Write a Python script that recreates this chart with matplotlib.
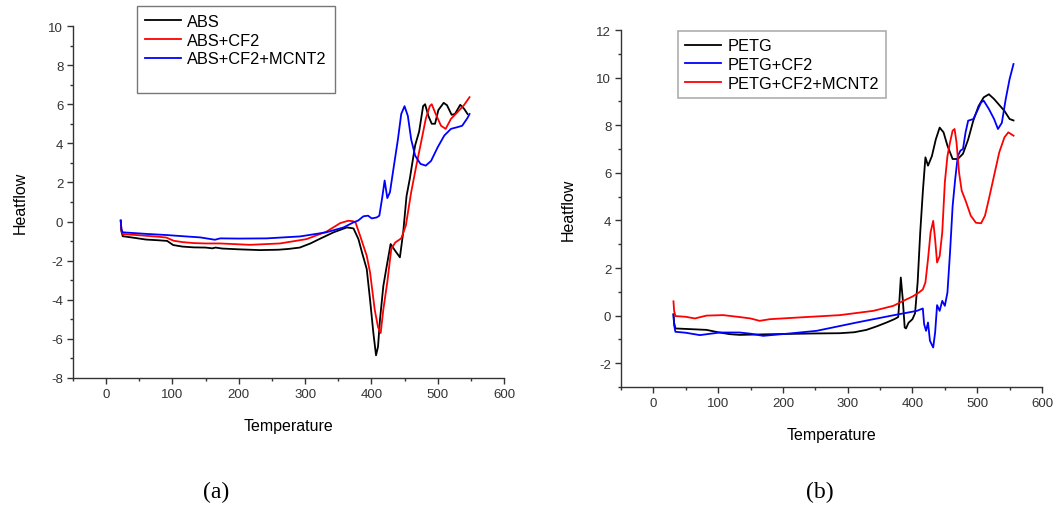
import matplotlib
matplotlib.use("Agg")
import matplotlib.pyplot as plt
from matplotlib.lines import Line2D

plt.rcParams['font.family'] = ['Liberation Sans', 'DejaVu Sans']
plt.rcParams['axes.unicode_minus'] = False

# ---- panel (a): ABS samples ----
abs_x = [22, 23, 25, 40, 60, 80, 92, 101, 115, 132, 150, 160, 165, 175, 200, 232, 260, 275, 292, 308, 320,
         343, 355, 363, 373, 380.5, 386, 393, 398, 403, 407, 410, 413, 418, 423, 429, 436, 443, 448, 453, 458,
         466, 472, 478, 481, 486, 491, 496, 501, 509, 514, 521, 526, 534, 540, 545]
abs_y = [0.05, -0.5, -0.75, -0.82, -0.92, -0.96, -0.99, -1.2, -1.28, -1.32, -1.33, -1.37, -1.33, -1.38, -1.42,
         -1.46, -1.44, -1.4, -1.33, -1.12, -0.92, -0.55, -0.4, -0.3, -0.35, -0.9, -1.6, -2.43, -4.0, -5.7, -6.84,
         -6.4, -5.0, -3.3, -2.3, -1.15, -1.5, -1.83, -0.55, 1.3, 2.2, 3.9, 4.6, 5.9, 6.0, 5.4, 5.0, 5.0, 5.7,
         6.07, 5.95, 5.46, 5.5, 5.97, 5.76, 5.5]

abs_cf_x = [22, 23, 25, 50, 80, 91, 101.6, 115, 131.7, 150, 172, 217, 262, 302, 332, 353, 365, 372, 376, 383,
            393, 398, 405, 410, 414, 418, 424, 430, 436, 445, 452, 460, 468, 475, 482, 488, 491, 497, 505,
            512, 520, 530, 540, 548]
abs_cf_y = [0.05, -0.45, -0.64, -0.7, -0.78, -0.82, -0.98, -1.05, -1.1, -1.12, -1.12, -1.19, -1.12, -0.9,
            -0.52, -0.08, 0.04, 0.02, -0.04, -0.73, -1.75, -2.6, -4.5, -5.4, -5.7, -4.5, -3.1, -1.4, -1.07,
            -0.86, -0.2, 1.5, 2.9, 4.06, 5.25, 5.9, 6.0, 5.5, 4.9, 4.74, 5.25, 5.6, 5.97, 6.36]

abs_cf_mcnt_x = [22, 23, 25, 60, 91.5, 120, 141.8, 164, 172, 200, 242, 292.6, 332, 358, 373, 380, 388, 395,
                 400.5, 408, 412, 416, 420, 424, 428, 434, 440, 445, 450, 455, 460, 466, 474, 482, 490, 500,
                 510, 520, 530, 537, 545, 548]
abs_cf_mcnt_y = [0.05, -0.4, -0.55, -0.63, -0.69, -0.76, -0.81, -0.93, -0.86, -0.87, -0.86, -0.76, -0.55,
                 -0.3, -0.04, 0.05, 0.27, 0.3, 0.16, 0.21, 0.3, 1.15, 2.1, 1.2, 1.5, 2.86, 4.2, 5.5, 5.9, 5.4,
                 4.2, 3.37, 2.95, 2.86, 3.1, 3.8, 4.4, 4.74, 4.83, 4.9, 5.3, 5.5]

# ---- panel (b): PETG samples ----
petg_x = [31, 32, 34, 50, 82, 100, 118, 133, 185, 250, 288, 310, 329, 345, 360, 372, 378, 380, 382, 385, 388,
          390, 394, 400, 404, 408, 412, 416, 420, 424, 430, 436, 442, 448, 454, 462, 470, 478, 486, 494, 502,
          510, 518, 526, 534, 542, 550, 556]
petg_y = [0.05, -0.3, -0.54, -0.56, -0.6, -0.7, -0.78, -0.81, -0.78, -0.75, -0.74, -0.7, -0.6, -0.45, -0.29,
          -0.15, -0.06, 0.7, 1.6, 0.7, -0.5, -0.54, -0.3, -0.15, 0.1, 1.4, 3.5, 5.2, 6.65, 6.3, 6.7, 7.4, 7.9,
          7.7, 7.14, 6.58, 6.58, 6.8, 7.4, 8.2, 8.8, 9.17, 9.3, 9.1, 8.85, 8.6, 8.26, 8.2]

petg_cf_x = [31, 32, 34, 50, 71.8, 102.7, 133, 150, 169.5, 211, 252, 314, 366, 407, 416, 418, 421, 424, 427,
             432, 435, 438, 442, 446, 450, 454, 458, 462, 466, 470, 474, 478, 482, 486, 494, 500, 506, 510,
             518, 526, 532, 538, 544, 550, 556]
petg_cf_y = [0.05, -0.4, -0.68, -0.72, -0.82, -0.71, -0.71, -0.76, -0.85, -0.75, -0.64, -0.29, -0.01, 0.2,
             0.3, -0.36, -0.64, -0.29, -1.06, -1.34, -0.71, 0.44, 0.2, 0.62, 0.41, 0.97, 2.65, 4.6, 5.74,
             6.7, 6.93, 7.0, 7.7, 8.19, 8.26, 8.6, 8.96, 9.03, 8.68, 8.26, 7.84, 8.1, 9.1, 9.94, 10.57]

petg_cf_mcnt_x = [31, 32, 34, 50, 64, 82, 107.7, 133, 150, 164, 180, 236.5, 288, 339.6, 370.5, 386, 400, 410,
                  416, 420, 424, 428, 432, 435, 438, 442, 446, 450, 454, 458, 462, 465, 468, 472, 476, 482,
                  490, 498, 506, 512, 518, 526, 534, 542, 548, 552, 556]
petg_cf_mcnt_y = [0.6, 0.2, -0.02, -0.05, -0.12, 0.0, 0.02, -0.06, -0.12, -0.22, -0.15, -0.06, 0.02, 0.2,
                  0.41, 0.62, 0.8, 0.97, 1.1, 1.39, 2.37, 3.5, 3.98, 3.2, 2.23, 2.5, 3.5, 5.6, 6.7, 7.28, 7.77,
                  7.84, 7.28, 6.0, 5.25, 4.83, 4.2, 3.9, 3.88, 4.2, 4.9, 5.88, 6.86, 7.49, 7.7, 7.63, 7.56]

W, H = 1057, 506
fig = plt.figure(figsize=(W / 100, H / 100), dpi=100)

def px_axes(l, t, r, b):
    return fig.add_axes([l / W, 1 - b / H, (r - l) / W, (b - t) / H])

def style(ax, ylim, yticks):
    for s in ['top', 'right']:
        ax.spines[s].set_visible(False)
    for s in ['left', 'bottom']:
        ax.spines[s].set_color('#333333')
        ax.spines[s].set_linewidth(1.0)
    ax.set_xlim(-50, 600)
    ax.set_ylim(*ylim)
    ax.set_xticks(range(0, 601, 100))
    ax.set_xticks(range(-50, 601, 50), minor=True)
    ax.set_yticks(yticks)
    ax.set_yticks(range(ylim[0], ylim[1] + 1, 1), minor=True)
    ax.tick_params(which='major', length=4, width=1, color='#333333', labelsize=9.5, labelcolor='#333333', pad=3)
    ax.tick_params(which='minor', length=2.5, width=1, color='#333333')
    ax.set_xlabel('Temperature', fontsize=11.5, labelpad=13)
    ax.set_ylabel('Heatflow', fontsize=11.5, labelpad=15)

lw = 1.3

# panel (a)
ax1 = px_axes(73, 27, 504, 379)
ax1.plot(abs_x, abs_y, color='black', lw=lw, label='ABS')
ax1.plot(abs_cf_x, abs_cf_y, color='#ff0000', lw=lw, label='ABS+CF2')
ax1.plot(abs_cf_mcnt_x, abs_cf_mcnt_y, color='#0000ff', lw=lw, label='ABS+CF2+MCNT2')
style(ax1, (-8, 10), range(-8, 11, 2))
h, l = ax1.get_legend_handles_labels()
h.append(Line2D([], [], color='none'))
l.append(' ')
leg1 = fig.legend(h, l, loc='upper left', bbox_to_anchor=(137 / W, 1 - 7 / H), fontsize=11.8,
                  fancybox=False, frameon=True, edgecolor='#555555', handlelength=2.2, handletextpad=0.35,
                  labelspacing=0.22, borderaxespad=0, borderpad=0.5)
leg1.get_frame().set_linewidth(1.0)

# panel (b)
ax2 = px_axes(621, 31, 1042, 388)
ax2.plot(petg_x, petg_y, color='black', lw=lw, label='PETG')
ax2.plot(petg_cf_x, petg_cf_y, color='#0000ff', lw=lw, label='PETG+CF2')
ax2.plot(petg_cf_mcnt_x, petg_cf_mcnt_y, color='#ff0000', lw=lw, label='PETG+CF2+MCNT2')
style(ax2, (-3, 12), range(-2, 13, 2))
leg2 = fig.legend(handles=ax2.get_legend_handles_labels()[0], loc='upper left',
                  bbox_to_anchor=(678 / W, 1 - 32 / H), fontsize=11.8, fancybox=False, frameon=True,
                  edgecolor='#999999', handlelength=2.2, handletextpad=0.35, labelspacing=0.22,
                  borderaxespad=0, borderpad=0.45)
leg2.get_frame().set_linewidth(1.2)

fig.text(216 / W, 1 - 492 / H, '(a)', ha='center', va='center', fontsize=17, family='Liberation Serif')
fig.text(820 / W, 1 - 492 / H, '(b)', ha='center', va='center', fontsize=17, family='Liberation Serif')

fig.savefig('out.png', dpi=100)
